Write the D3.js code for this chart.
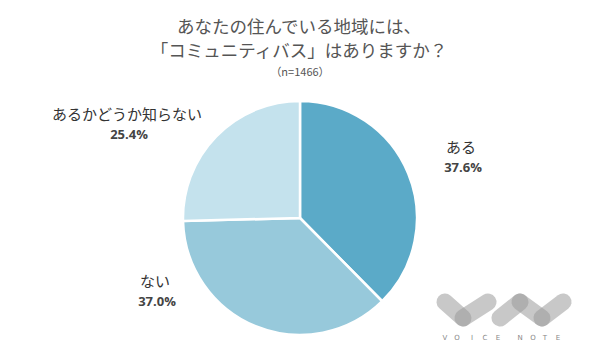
<!DOCTYPE html>
<html><head><meta charset="utf-8">
<script src="https://cdn.jsdelivr.net/npm/d3@7/dist/d3.min.js"></script>
<style>body{margin:0;background:#fff;}svg{display:block;}</style>
</head><body>
<svg id="c" width="600" height="360"></svg>
<script>
const categories = ["ある", "ない", "あるかどうか知らない"];
const values = [37.6, 37.0, 25.4];
const valueLabels = ["37.6%", "37.0%", "25.4%"];
const colors = ["#5baac8", "#97c9db", "#c4e2ed"];
const titleLines = ["あなたの住んでいる地域には、", "「コミュニティバス」はありますか？"];
const subtitle = "（n=1466）";

const svg = d3.select("#c");
const font = "'Noto Sans CJK JP','Noto Sans',sans-serif";
const cx = 300, cy = 218, r = 117;

svg.selectAll("text.title").data(titleLines).join("text")
  .attr("x", 299).attr("y", (d,i)=>33+i*24)
  .attr("text-anchor","middle").attr("font-family",font)
  .attr("font-size",17.5).attr("fill","#555").text(d=>d);
svg.append("text").attr("x",300).attr("y",76).attr("text-anchor","middle")
  .attr("font-family",font).attr("font-size",11).attr("fill","#555").text(subtitle);

const pie = d3.pie().sort(null).value(d=>d);
const arc = d3.arc().innerRadius(0).outerRadius(r);
const g = svg.append("g").attr("transform",`translate(${cx},${cy})`);
g.selectAll("path").data(pie(values)).join("path")
  .attr("d",arc).attr("fill",(d,i)=>colors[i])
  .attr("stroke","#fff").attr("stroke-width",2.5);

const labelPos = [[461,153],[155,287],[127,120]];
categories.forEach((c,i)=>{
  const [x,y] = labelPos[i];
  svg.append("text").attr("x",x).attr("y",y).attr("text-anchor","middle")
    .attr("font-family",font).attr("font-size",15).attr("fill","#333").text(c);
  svg.append("text").attr("x",x+2).attr("y",y+19).attr("text-anchor","middle")
    .attr("font-family","'Open Sans','Noto Sans',sans-serif").attr("font-weight","bold")
    .attr("font-size",13).attr("fill","#444").text(valueLabels[i]);
});

// logo
const logo = svg.append("g");
const pills = [[445,302,463,318],[488,302,463,318],[500,318,520,302],[520,302,542,318],[542,318,563,302]];
pills.forEach(([x1,y1,x2,y2])=>{
  logo.append("line").attr("x1",x1).attr("y1",y1).attr("x2",x2).attr("y2",y2)
    .attr("stroke","#9a9a9a").attr("stroke-opacity",0.55)
    .attr("stroke-width",17).attr("stroke-linecap","round");
});
const letters = "VOICE NOTE".split("");
const lx = [445,457,472,485,498,null,520,533,545,558];
letters.forEach((l,i)=>{ if(lx[i]===null) return;
  logo.append("text").attr("x",lx[i]).attr("y",340).attr("text-anchor","middle")
    .attr("font-family","'DejaVu Sans',sans-serif").attr("font-size",7).attr("fill","#888").text(l);
});
</script>
</body></html>
